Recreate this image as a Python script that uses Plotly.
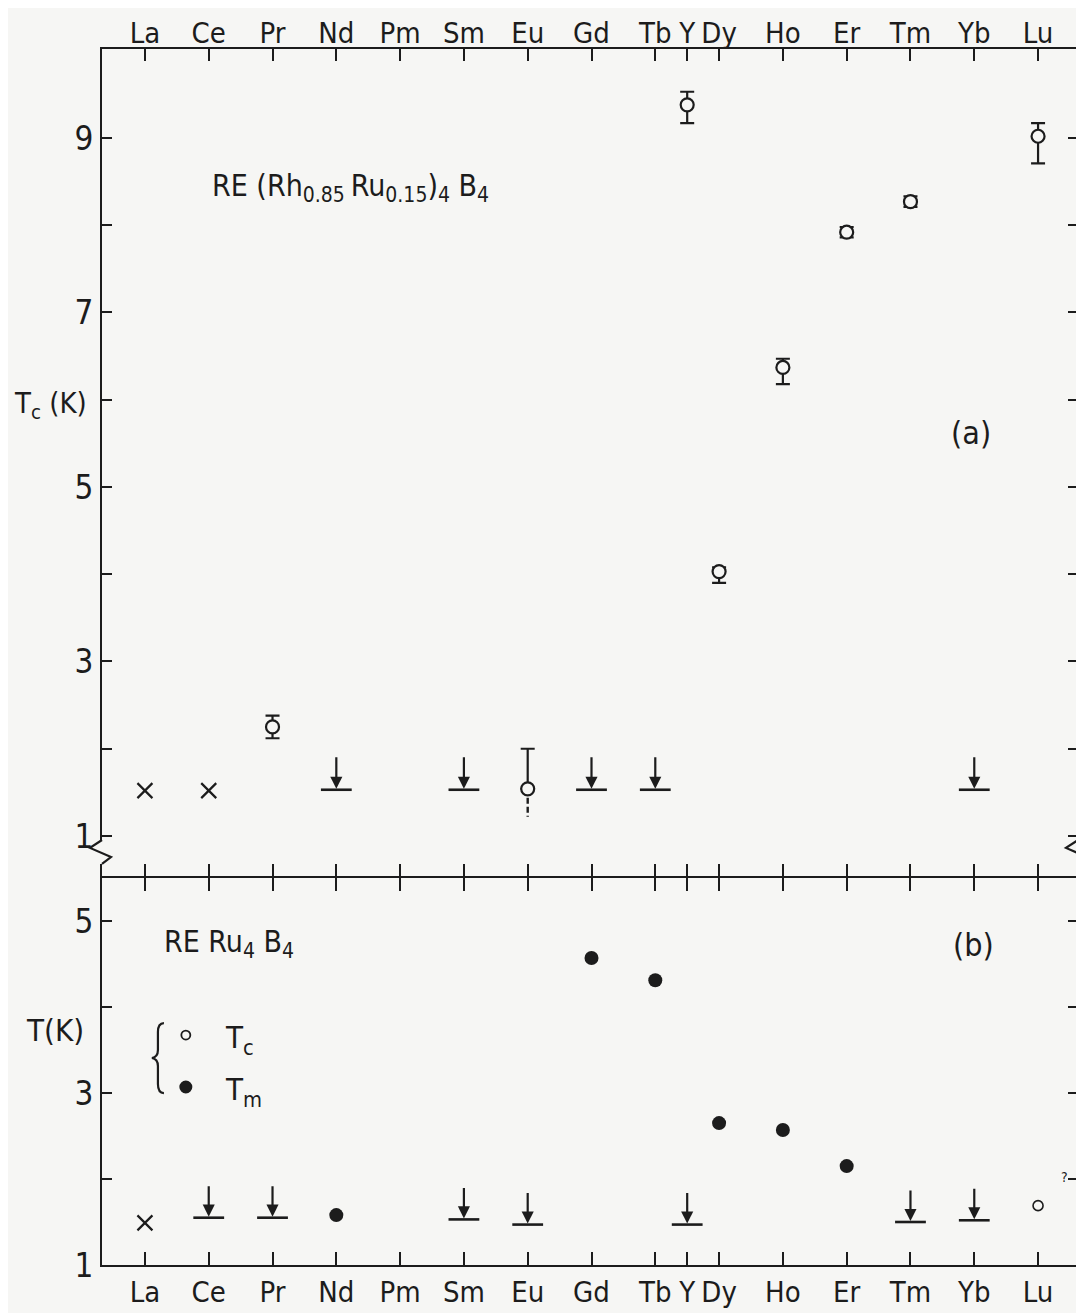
import plotly.graph_objects as go

# ---------------- data ----------------
elements = ["La", "Ce", "Pr", "Nd", "Pm", "Sm", "Eu", "Gd", "Tb", "Y", "Dy", "Ho", "Er", "Tm", "Yb", "Lu"]
elem_pos = [0, 1, 2, 3, 4, 5, 6, 7, 8, 8.5, 9, 10, 11, 12, 13, 14]

# panel (a): RE(Rh0.85Ru0.15)4B4
a_tc_el = ["Pr", "Eu", "Y", "Dy", "Ho", "Er", "Tm", "Lu"]
a_tc = [2.25, 1.54, 9.38, 4.03, 6.37, 7.92, 8.27, 9.02]
a_tc_plus = [0.13, 0.46, 0.15, 0.05, 0.10, 0.06, 0.06, 0.15]
a_tc_minus = [0.13, 0.0, 0.21, 0.13, 0.19, 0.06, 0.06, 0.31]
a_eu_dashed_low = 1.22
a_none_el = ["La", "Ce"]
a_none = [1.52, 1.52]
a_lim_el = ["Nd", "Sm", "Gd", "Tb", "Yb"]
a_lim = [1.53, 1.53, 1.53, 1.53, 1.53]

# panel (b): RERu4B4
b_none_el = ["La"]
b_none = [1.49]
b_lim_el = ["Ce", "Pr", "Sm", "Eu", "Y", "Tm", "Yb"]
b_lim = [1.55, 1.55, 1.53, 1.47, 1.47, 1.50, 1.52]
b_tm_el = ["Nd", "Gd", "Tb", "Dy", "Ho", "Er"]
b_tm = [1.58, 4.57, 4.31, 2.65, 2.57, 2.15]
b_tc_el = ["Lu"]
b_tc = [1.69]

a_yticks = [1, 2, 3, 4, 5, 6, 7, 8, 9]
a_yticktext = ["1", "", "3", "", "5", "", "7", "", "9"]
b_yticks = [1, 2, 3, 4, 5]
b_yticktext = ["1", "", "3", "", "5"]

# ---------------- style ----------------
BG = "#f6f6f4"
INK = "#1c1c1c"
FONT = "DejaVu Sans Condensed, Liberation Sans Narrow, DejaVu Sans, sans-serif"
pos = dict(zip(elements, elem_pos))


def px(names):
    return [pos[n] for n in names]


fig = go.Figure()

# ---- panel (a) ----
fig.add_trace(go.Scatter(
    x=[pos["Eu"], pos["Eu"]], y=[a_tc[a_tc_el.index("Eu")], a_eu_dashed_low],
    mode="lines", xaxis="x2", yaxis="y2",
    line=dict(color=INK, width=2.4, dash="6px,3px"), showlegend=False))
fig.add_trace(go.Scatter(
    x=px(a_tc_el), y=a_tc, mode="markers", xaxis="x2", yaxis="y2",
    marker=dict(symbol="circle", size=13, color=BG, line=dict(color=INK, width=2.2)),
    error_y=dict(type="data", symmetric=False, array=a_tc_plus, arrayminus=a_tc_minus,
                 color=INK, thickness=2.2, width=7),
    showlegend=False))
fig.add_trace(go.Scatter(
    x=px(a_none_el), y=a_none, mode="markers", xaxis="x2", yaxis="y2",
    marker=dict(symbol="x-thin-open", size=15, color=INK, line=dict(color=INK, width=2.2)),
    showlegend=False))
fig.add_trace(go.Scatter(
    x=px(a_lim_el), y=a_lim, mode="markers", xaxis="x2", yaxis="y2",
    marker=dict(symbol="line-ew-open", size=22, color=INK, line=dict(color=INK, width=2.6)),
    showlegend=False))

# ---- panel (b) ----
fig.add_trace(go.Scatter(
    x=px(b_none_el), y=b_none, mode="markers",
    marker=dict(symbol="x-thin-open", size=15, color=INK, line=dict(color=INK, width=2.2)),
    showlegend=False))
fig.add_trace(go.Scatter(
    x=px(b_lim_el), y=b_lim, mode="markers",
    marker=dict(symbol="line-ew-open", size=22, color=INK, line=dict(color=INK, width=2.6)),
    showlegend=False))
fig.add_trace(go.Scatter(
    x=px(b_tm_el), y=b_tm, mode="markers",
    marker=dict(symbol="circle", size=14, color=INK, line=dict(width=0)),
    showlegend=False))
fig.add_trace(go.Scatter(
    x=px(b_tc_el), y=b_tc, mode="markers",
    marker=dict(symbol="circle", size=10, color=BG, line=dict(color=INK, width=1.6)),
    showlegend=False))

annotations = []
# upper-limit arrows
for n, v in zip(a_lim_el, a_lim):
    annotations.append(dict(x=pos[n], y=v, xref="x2", yref="y2", text="", showarrow=True,
                            ax=0, ay=-34, arrowhead=2, arrowsize=1.1, arrowwidth=2.2,
                            arrowcolor=INK, standoff=1))
for n, v in zip(b_lim_el, b_lim):
    annotations.append(dict(x=pos[n], y=v, xref="x", yref="y", text="", showarrow=True,
                            ax=0, ay=-33, arrowhead=2, arrowsize=1.1, arrowwidth=2.2,
                            arrowcolor=INK, standoff=1))

tf = dict(family=FONT, color=INK)
annotations += [
    dict(x=0.1104, y=0.8865, xref="paper", yref="paper", xanchor="left", yanchor="middle",
         text="RE (Rh<sub>0.85 </sub>Ru<sub>0.15</sub>)<sub>4</sub> B<sub>4</sub>",
         showarrow=False, font=dict(size=30, **tf)),
    dict(x=0.8906, y=0.6842, xref="paper", yref="paper", xanchor="center", yanchor="middle",
         text="(a)", showarrow=False, font=dict(size=32, **tf)),
    dict(x=0.0613, y=0.264, xref="paper", yref="paper", xanchor="left", yanchor="middle",
         text="RE Ru<sub>4</sub> B<sub>4</sub>", showarrow=False, font=dict(size=30, **tf)),
    dict(x=0.893, y=0.263, xref="paper", yref="paper", xanchor="center", yanchor="middle",
         text="(b)", showarrow=False, font=dict(size=32, **tf)),
    dict(x=0.1237, y=0.1858, xref="paper", yref="paper", xanchor="left", yanchor="middle",
         text="T<sub>c</sub>", showarrow=False, font=dict(size=31, **tf)),
    dict(x=0.1237, y=0.1430, xref="paper", yref="paper", xanchor="left", yanchor="middle",
         text="T<sub>m</sub>", showarrow=False, font=dict(size=31, **tf)),
    dict(x=-0.092, y=0.707, xref="paper", yref="paper", xanchor="left", yanchor="middle",
         text="T<sub>c</sub> (K)", showarrow=False, font=dict(size=29, **tf)),
    dict(x=-0.080, y=0.193, xref="paper", yref="paper", xanchor="left", yanchor="middle",
         text="T(K)", showarrow=False, font=dict(size=31, **tf)),
    dict(x=0.986, y=0.072, xref="paper", yref="paper", xanchor="center", yanchor="middle",
         text="?", showarrow=False, font=dict(size=14, **tf)),
]

# axis-break zigzags, legend brace and legend symbols
shapes = []
brk_top, brk_bot = 0.3495, 0.3298
for xa in [0, 1]:
    shapes.append(dict(type="rect", xref="paper", yref="paper", xsizemode="pixel", xanchor=xa,
                       x0=-4, x1=4, y0=brk_bot, y1=brk_top, fillcolor=BG,
                       line=dict(width=0), layer="above"))
    shapes.append(dict(type="path", xref="paper", yref="paper", xsizemode="pixel", xanchor=xa,
                       path=f"M 0,{brk_top} L -12,0.3430 L 9,0.3355 L 0,{brk_bot}",
                       line=dict(color=INK, width=2.2), layer="above"))
shapes.append(dict(type="path", xref="paper", yref="paper", xsizemode="pixel", ysizemode="pixel",
                   xanchor=0.0573, yanchor=0.1702,
                   path="M 6,35 Q 0,35 0,26 L 0,8 Q 0,1 -6,0 Q 0,-1 0,-8 L 0,-26 Q 0,-35 6,-35",
                   line=dict(color=INK, width=2.2)))
shapes.append(dict(type="circle", xref="paper", yref="paper", xsizemode="pixel", ysizemode="pixel",
                   xanchor=0.0859, yanchor=0.1891, x0=-4.5, x1=4.5, y0=-4.5, y1=4.5,
                   line=dict(color=INK, width=1.8), fillcolor=BG))
shapes.append(dict(type="circle", xref="paper", yref="paper", xsizemode="pixel", ysizemode="pixel",
                   xanchor=0.0859, yanchor=0.1464, x0=-6.5, x1=6.5, y0=-6.5, y1=6.5,
                   line=dict(color=INK, width=0), fillcolor=INK))

axis_common = dict(showgrid=False, zeroline=False, showline=True, linecolor=INK, linewidth=2,
                   ticks="inside", tickcolor=INK, tickwidth=2, mirror="ticks")
xfont = dict(family=FONT, size=29, color=INK)
yfont = dict(family=FONT, size=33, color=INK)
xr = [-0.673, 14.626]
split = 0.3183
top_start = split + 2 / 1216  # so the two panels' boundary lines coincide

fig.update_layout(
    width=1076, height=1305,
    margin=dict(l=94, r=4, t=41, b=48),
    paper_bgcolor=BG, plot_bgcolor=BG,
    xaxis=dict(domain=[0, 1], anchor="y", range=xr, tickvals=elem_pos, ticktext=elements,
               side="bottom", ticklen=13, tickfont=xfont, **axis_common),
    xaxis2=dict(domain=[0, 1], anchor="y2", range=xr, tickvals=elem_pos, ticktext=elements,
                side="top", ticklen=12, tickfont=xfont, ticklabelstandoff=-8, **axis_common),
    yaxis=dict(domain=[0, split], anchor="x", range=[1, 5.5], tickvals=b_yticks,
               ticktext=b_yticktext, ticklen=10, tickfont=yfont, **axis_common),
    yaxis2=dict(domain=[top_start, 1], anchor="x2", range=[0.542, 10.02], tickvals=a_yticks,
                ticktext=a_yticktext, ticklen=10, tickfont=yfont, **axis_common),
    annotations=annotations,
    shapes=shapes,
    showlegend=False,
)

fig.write_html("out.html")
